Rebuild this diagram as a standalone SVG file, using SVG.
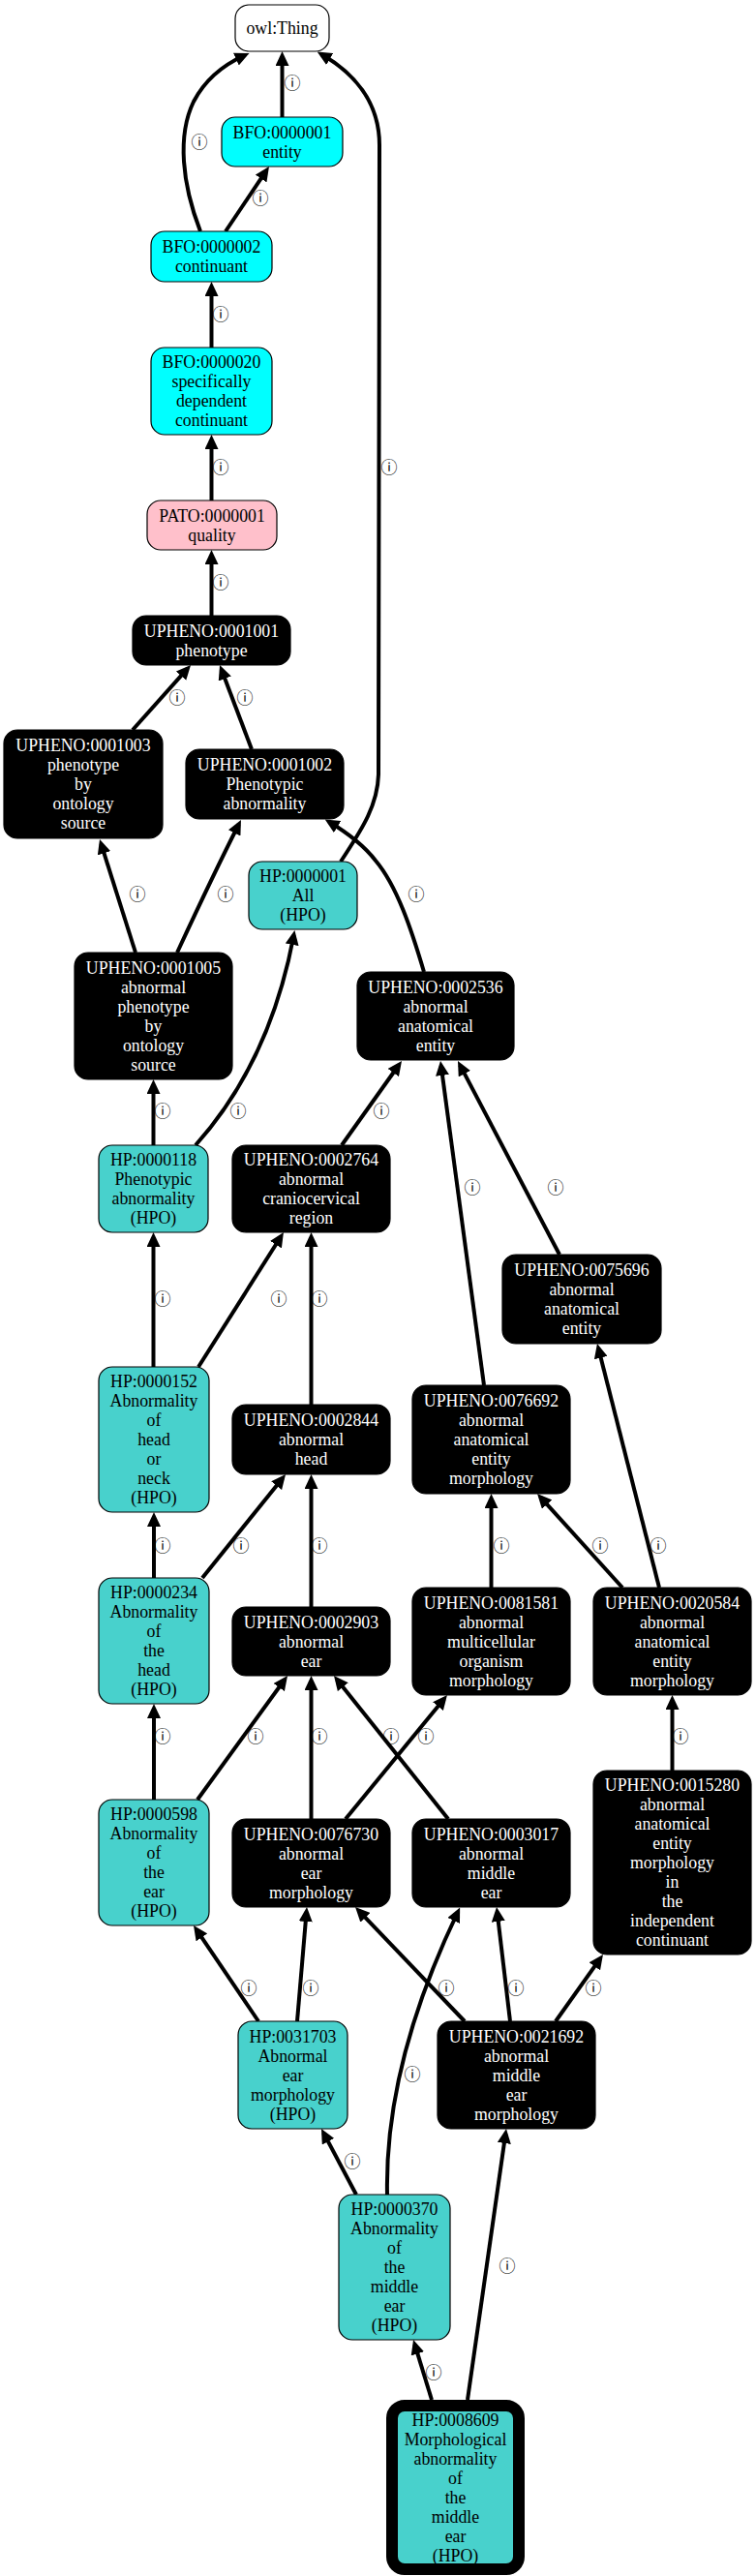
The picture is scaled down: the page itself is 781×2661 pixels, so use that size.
<svg xmlns="http://www.w3.org/2000/svg" width="781" height="2661" viewBox="0 0 781 2661">
<style>
.n rect{stroke:#000;stroke-width:1.2}
.n text{font-family:"Liberation Serif","Times New Roman",serif;font-size:17.8px;text-anchor:middle}
.w text{fill:#fff}
.e path{fill:none;stroke:#000;stroke-width:4}
.el{font-family:"Noto Sans CJK KR","Noto Sans CJK JP",sans-serif;font-size:17px;text-anchor:middle;dominant-baseline:central;fill:#000}
</style>
<defs>
<marker id="arr" markerUnits="userSpaceOnUse" markerWidth="15" markerHeight="14" viewBox="0 0 15 14" refX="10" refY="7" orient="auto"><path d="M0,0 L15,7 L0,14 z" fill="#000"/></marker>
</defs>
<rect width="781" height="2661" fill="#fff"/>
<g id="connectors" class="e">
<path marker-end="url(#arr)" d="M291.5,121 L291.5,58"/>
<path marker-end="url(#arr)" d="M207,239 C188,190 183,140 200,105 C213,80 233,66 253,57"/>
<path marker-end="url(#arr)" d="M233,239 L275.2,176.2"/>
<path marker-end="url(#arr)" d="M218.5,359 L218.5,296"/>
<path marker-end="url(#arr)" d="M218.5,517 L218.5,454"/>
<path marker-end="url(#arr)" d="M218.5,636 L218.5,573"/>
<path marker-end="url(#arr)" d="M137,754 L193.7,690.7"/>
<path marker-end="url(#arr)" d="M260,774 L228.8,691.7"/>
<path marker-end="url(#arr)" d="M352,890 C370,862 390,835 391,800 L392,150 C392,105 365,75 332,56"/>
<path marker-end="url(#arr)" d="M140,984 L104.5,871.8"/>
<path marker-end="url(#arr)" d="M183,984 Q222,900 246.7,851.5"/>
<path marker-end="url(#arr)" d="M438,1004 C425,960 410,915 388,889 C375,872 355,858 340,849"/>
<path marker-end="url(#arr)" d="M158.5,1183 L158.5,1120"/>
<path marker-end="url(#arr)" d="M202,1183 C245,1135 285,1065 303.5,966"/>
<path marker-end="url(#arr)" d="M353,1183 L412.1,1100"/>
<path marker-end="url(#arr)" d="M500,1431 L455.7,1101"/>
<path marker-end="url(#arr)" d="M578,1296 L475.3,1100.4"/>
<path marker-end="url(#arr)" d="M158.5,1412 L158.5,1278"/>
<path marker-end="url(#arr)" d="M205,1412 L290.3,1277.2"/>
<path marker-end="url(#arr)" d="M321.5,1451 L321.5,1278"/>
<path marker-end="url(#arr)" d="M681,1640 L618.2,1392.8"/>
<path marker-end="url(#arr)" d="M159,1630 L159,1567"/>
<path marker-end="url(#arr)" d="M209,1630 L291.9,1526.9"/>
<path marker-end="url(#arr)" d="M321.5,1660 L321.5,1528"/>
<path marker-end="url(#arr)" d="M507.5,1640 L507.5,1548"/>
<path marker-end="url(#arr)" d="M643,1640 L558.4,1546.7"/>
<path marker-end="url(#arr)" d="M159,1859 L159,1765"/>
<path marker-end="url(#arr)" d="M204,1859 L294.1,1735"/>
<path marker-end="url(#arr)" d="M321.5,1879 L321.5,1736"/>
<path marker-end="url(#arr)" d="M357,1879 L458.8,1754.9"/>
<path marker-end="url(#arr)" d="M463,1879 L348.1,1734.9"/>
<path marker-end="url(#arr)" d="M694.5,1829 L694.5,1756"/>
<path marker-end="url(#arr)" d="M267,2088 L202.8,1993.1"/>
<path marker-end="url(#arr)" d="M307,2088 L316.6,1975"/>
<path marker-end="url(#arr)" d="M480,2088 L370.5,1973.6"/>
<path marker-end="url(#arr)" d="M527,2088 L513.6,1975"/>
<path marker-end="url(#arr)" d="M574,2088 L620.1,2023.1"/>
<path marker-end="url(#arr)" d="M400,2267 C398,2175 425,2075 473,1975"/>
<path marker-end="url(#arr)" d="M368,2267 L334.3,2203.4"/>
<path marker-end="url(#arr)" d="M446,2479 L428.5,2421.8"/>
<path marker-end="url(#arr)" d="M483,2479 L522.3,2204"/>
</g>
<g id="edge-labels">
<text class="el" x="302" y="84">ⓘ</text>
<text class="el" x="206" y="145">ⓘ</text>
<text class="el" x="269" y="203">ⓘ</text>
<text class="el" x="228" y="323">ⓘ</text>
<text class="el" x="228" y="481">ⓘ</text>
<text class="el" x="228" y="600">ⓘ</text>
<text class="el" x="183" y="719">ⓘ</text>
<text class="el" x="253" y="719">ⓘ</text>
<text class="el" x="402" y="481">ⓘ</text>
<text class="el" x="142" y="922">ⓘ</text>
<text class="el" x="233" y="922">ⓘ</text>
<text class="el" x="430" y="922">ⓘ</text>
<text class="el" x="168" y="1146">ⓘ</text>
<text class="el" x="246" y="1146">ⓘ</text>
<text class="el" x="394" y="1146">ⓘ</text>
<text class="el" x="488" y="1225">ⓘ</text>
<text class="el" x="574" y="1225">ⓘ</text>
<text class="el" x="168" y="1340">ⓘ</text>
<text class="el" x="288" y="1340">ⓘ</text>
<text class="el" x="330" y="1340">ⓘ</text>
<text class="el" x="680" y="1595">ⓘ</text>
<text class="el" x="168" y="1595">ⓘ</text>
<text class="el" x="249" y="1595">ⓘ</text>
<text class="el" x="330" y="1595">ⓘ</text>
<text class="el" x="518" y="1595">ⓘ</text>
<text class="el" x="620" y="1595">ⓘ</text>
<text class="el" x="168" y="1792">ⓘ</text>
<text class="el" x="264" y="1792">ⓘ</text>
<text class="el" x="330" y="1792">ⓘ</text>
<text class="el" x="440" y="1792">ⓘ</text>
<text class="el" x="404" y="1792">ⓘ</text>
<text class="el" x="703" y="1792">ⓘ</text>
<text class="el" x="257" y="2052">ⓘ</text>
<text class="el" x="321" y="2052">ⓘ</text>
<text class="el" x="461" y="2052">ⓘ</text>
<text class="el" x="533" y="2052">ⓘ</text>
<text class="el" x="613" y="2052">ⓘ</text>
<text class="el" x="426" y="2141">ⓘ</text>
<text class="el" x="364" y="2231">ⓘ</text>
<text class="el" x="448" y="2449">ⓘ</text>
<text class="el" x="524" y="2339">ⓘ</text>
</g>
<g id="owl_Thing" class="n"><rect x="243" y="5" width="97" height="48" rx="14" fill="#fff"/><text x="291.5" y="35">owl:Thing</text></g>
<g id="BFO_0000001" class="n"><rect x="229" y="121" width="125" height="51" rx="14" fill="#00ffff"/><text><tspan x="291.5" y="142.5">BFO:0000001</tspan><tspan x="291.5" y="162.5">entity</tspan></text></g>
<g id="BFO_0000002" class="n"><rect x="156" y="239" width="125" height="52" rx="14" fill="#00ffff"/><text><tspan x="218.5" y="261">BFO:0000002</tspan><tspan x="218.5" y="281">continuant</tspan></text></g>
<g id="BFO_0000020" class="n"><rect x="156" y="359" width="125" height="90" rx="14" fill="#00ffff"/><text><tspan x="218.5" y="380">BFO:0000020</tspan><tspan x="218.5" y="400">specifically</tspan><tspan x="218.5" y="420">dependent</tspan><tspan x="218.5" y="440">continuant</tspan></text></g>
<g id="PATO_0000001" class="n"><rect x="152" y="517" width="134" height="51" rx="14" fill="#ffc0cb"/><text><tspan x="219" y="538.5">PATO:0000001</tspan><tspan x="219" y="558.5">quality</tspan></text></g>
<g id="UPHENO_0001001" class="n w"><rect x="137" y="636" width="163" height="51" rx="14" fill="#000"/><text><tspan x="218.5" y="657.5">UPHENO:0001001</tspan><tspan x="218.5" y="677.5">phenotype</tspan></text></g>
<g id="UPHENO_0001003" class="n w"><rect x="4" y="754" width="164" height="112" rx="14" fill="#000"/><text><tspan x="86" y="776">UPHENO:0001003</tspan><tspan x="86" y="796">phenotype</tspan><tspan x="86" y="816">by</tspan><tspan x="86" y="836">ontology</tspan><tspan x="86" y="856">source</tspan></text></g>
<g id="UPHENO_0001002" class="n w"><rect x="192" y="774" width="163" height="72" rx="14" fill="#000"/><text><tspan x="273.5" y="796">UPHENO:0001002</tspan><tspan x="273.5" y="816">Phenotypic</tspan><tspan x="273.5" y="836">abnormality</tspan></text></g>
<g id="HP_0000001" class="n"><rect x="257" y="890" width="112" height="70" rx="14" fill="#48d1cc"/><text><tspan x="313" y="911">HP:0000001</tspan><tspan x="313" y="931">All</tspan><tspan x="313" y="951">(HPO)</tspan></text></g>
<g id="UPHENO_0001005" class="n w"><rect x="77" y="984" width="163" height="131" rx="14" fill="#000"/><text><tspan x="158.5" y="1005.5">UPHENO:0001005</tspan><tspan x="158.5" y="1025.5">abnormal</tspan><tspan x="158.5" y="1045.5">phenotype</tspan><tspan x="158.5" y="1065.5">by</tspan><tspan x="158.5" y="1085.5">ontology</tspan><tspan x="158.5" y="1105.5">source</tspan></text></g>
<g id="UPHENO_0002536" class="n w"><rect x="369" y="1004" width="162" height="91" rx="14" fill="#000"/><text><tspan x="450" y="1025.5">UPHENO:0002536</tspan><tspan x="450" y="1045.5">abnormal</tspan><tspan x="450" y="1065.5">anatomical</tspan><tspan x="450" y="1085.5">entity</tspan></text></g>
<g id="HP_0000118" class="n"><rect x="102" y="1183" width="113" height="90" rx="14" fill="#48d1cc"/><text><tspan x="158.5" y="1204">HP:0000118</tspan><tspan x="158.5" y="1224">Phenotypic</tspan><tspan x="158.5" y="1244">abnormality</tspan><tspan x="158.5" y="1264">(HPO)</tspan></text></g>
<g id="UPHENO_0002764" class="n w"><rect x="240" y="1183" width="163" height="90" rx="14" fill="#000"/><text><tspan x="321.5" y="1204">UPHENO:0002764</tspan><tspan x="321.5" y="1224">abnormal</tspan><tspan x="321.5" y="1244">craniocervical</tspan><tspan x="321.5" y="1264">region</tspan></text></g>
<g id="UPHENO_0075696" class="n w"><rect x="519" y="1296" width="164" height="92" rx="14" fill="#000"/><text><tspan x="601" y="1318">UPHENO:0075696</tspan><tspan x="601" y="1338">abnormal</tspan><tspan x="601" y="1358">anatomical</tspan><tspan x="601" y="1378">entity</tspan></text></g>
<g id="HP_0000152" class="n"><rect x="102" y="1412" width="114" height="150" rx="14" fill="#48d1cc"/><text><tspan x="159" y="1433">HP:0000152</tspan><tspan x="159" y="1453">Abnormality</tspan><tspan x="159" y="1473">of</tspan><tspan x="159" y="1493">head</tspan><tspan x="159" y="1513">or</tspan><tspan x="159" y="1533">neck</tspan><tspan x="159" y="1553">(HPO)</tspan></text></g>
<g id="UPHENO_0002844" class="n w"><rect x="240" y="1451" width="163" height="72" rx="14" fill="#000"/><text><tspan x="321.5" y="1473">UPHENO:0002844</tspan><tspan x="321.5" y="1493">abnormal</tspan><tspan x="321.5" y="1513">head</tspan></text></g>
<g id="UPHENO_0076692" class="n w"><rect x="426" y="1431" width="163" height="112" rx="14" fill="#000"/><text><tspan x="507.5" y="1453">UPHENO:0076692</tspan><tspan x="507.5" y="1473">abnormal</tspan><tspan x="507.5" y="1493">anatomical</tspan><tspan x="507.5" y="1513">entity</tspan><tspan x="507.5" y="1533">morphology</tspan></text></g>
<g id="HP_0000234" class="n"><rect x="102" y="1630" width="114" height="130" rx="14" fill="#48d1cc"/><text><tspan x="159" y="1651">HP:0000234</tspan><tspan x="159" y="1671">Abnormality</tspan><tspan x="159" y="1691">of</tspan><tspan x="159" y="1711">the</tspan><tspan x="159" y="1731">head</tspan><tspan x="159" y="1751">(HPO)</tspan></text></g>
<g id="UPHENO_0002903" class="n w"><rect x="240" y="1660" width="163" height="71" rx="14" fill="#000"/><text><tspan x="321.5" y="1681.5">UPHENO:0002903</tspan><tspan x="321.5" y="1701.5">abnormal</tspan><tspan x="321.5" y="1721.5">ear</tspan></text></g>
<g id="UPHENO_0081581" class="n w"><rect x="426" y="1640" width="163" height="111" rx="14" fill="#000"/><text><tspan x="507.5" y="1661.5">UPHENO:0081581</tspan><tspan x="507.5" y="1681.5">abnormal</tspan><tspan x="507.5" y="1701.5">multicellular</tspan><tspan x="507.5" y="1721.5">organism</tspan><tspan x="507.5" y="1741.5">morphology</tspan></text></g>
<g id="UPHENO_0020584" class="n w"><rect x="613" y="1640" width="163" height="111" rx="14" fill="#000"/><text><tspan x="694.5" y="1661.5">UPHENO:0020584</tspan><tspan x="694.5" y="1681.5">abnormal</tspan><tspan x="694.5" y="1701.5">anatomical</tspan><tspan x="694.5" y="1721.5">entity</tspan><tspan x="694.5" y="1741.5">morphology</tspan></text></g>
<g id="UPHENO_0015280" class="n w"><rect x="613" y="1829" width="163" height="190" rx="14" fill="#000"/><text><tspan x="694.5" y="1850">UPHENO:0015280</tspan><tspan x="694.5" y="1870">abnormal</tspan><tspan x="694.5" y="1890">anatomical</tspan><tspan x="694.5" y="1910">entity</tspan><tspan x="694.5" y="1930">morphology</tspan><tspan x="694.5" y="1950">in</tspan><tspan x="694.5" y="1970">the</tspan><tspan x="694.5" y="1990">independent</tspan><tspan x="694.5" y="2010">continuant</tspan></text></g>
<g id="HP_0000598" class="n"><rect x="102" y="1859" width="114" height="130" rx="14" fill="#48d1cc"/><text><tspan x="159" y="1880">HP:0000598</tspan><tspan x="159" y="1900">Abnormality</tspan><tspan x="159" y="1920">of</tspan><tspan x="159" y="1940">the</tspan><tspan x="159" y="1960">ear</tspan><tspan x="159" y="1980">(HPO)</tspan></text></g>
<g id="UPHENO_0076730" class="n w"><rect x="240" y="1879" width="163" height="91" rx="14" fill="#000"/><text><tspan x="321.5" y="1900.5">UPHENO:0076730</tspan><tspan x="321.5" y="1920.5">abnormal</tspan><tspan x="321.5" y="1940.5">ear</tspan><tspan x="321.5" y="1960.5">morphology</tspan></text></g>
<g id="UPHENO_0003017" class="n w"><rect x="426" y="1879" width="163" height="91" rx="14" fill="#000"/><text><tspan x="507.5" y="1900.5">UPHENO:0003017</tspan><tspan x="507.5" y="1920.5">abnormal</tspan><tspan x="507.5" y="1940.5">middle</tspan><tspan x="507.5" y="1960.5">ear</tspan></text></g>
<g id="HP_0031703" class="n"><rect x="246" y="2088" width="113" height="111" rx="14" fill="#48d1cc"/><text><tspan x="302.5" y="2109.5">HP:0031703</tspan><tspan x="302.5" y="2129.5">Abnormal</tspan><tspan x="302.5" y="2149.5">ear</tspan><tspan x="302.5" y="2169.5">morphology</tspan><tspan x="302.5" y="2189.5">(HPO)</tspan></text></g>
<g id="UPHENO_0021692" class="n w"><rect x="452" y="2088" width="163" height="111" rx="14" fill="#000"/><text><tspan x="533.5" y="2109.5">UPHENO:0021692</tspan><tspan x="533.5" y="2129.5">abnormal</tspan><tspan x="533.5" y="2149.5">middle</tspan><tspan x="533.5" y="2169.5">ear</tspan><tspan x="533.5" y="2189.5">morphology</tspan></text></g>
<g id="HP_0000370" class="n"><rect x="350" y="2267" width="115" height="150" rx="14" fill="#48d1cc"/><text><tspan x="407.5" y="2288">HP:0000370</tspan><tspan x="407.5" y="2308">Abnormality</tspan><tspan x="407.5" y="2328">of</tspan><tspan x="407.5" y="2348">the</tspan><tspan x="407.5" y="2368">middle</tspan><tspan x="407.5" y="2388">ear</tspan><tspan x="407.5" y="2408">(HPO)</tspan></text></g>
<g id="HP_0008609" class="n"><rect x="405" y="2485" width="131" height="169" rx="13" fill="#48d1cc" style="stroke-width:12"/><text><tspan x="470.5" y="2506">HP:0008609</tspan><tspan x="470.5" y="2526">Morphological</tspan><tspan x="470.5" y="2546">abnormality</tspan><tspan x="470.5" y="2566">of</tspan><tspan x="470.5" y="2586">the</tspan><tspan x="470.5" y="2606">middle</tspan><tspan x="470.5" y="2626">ear</tspan><tspan x="470.5" y="2646">(HPO)</tspan></text></g>
</svg>
